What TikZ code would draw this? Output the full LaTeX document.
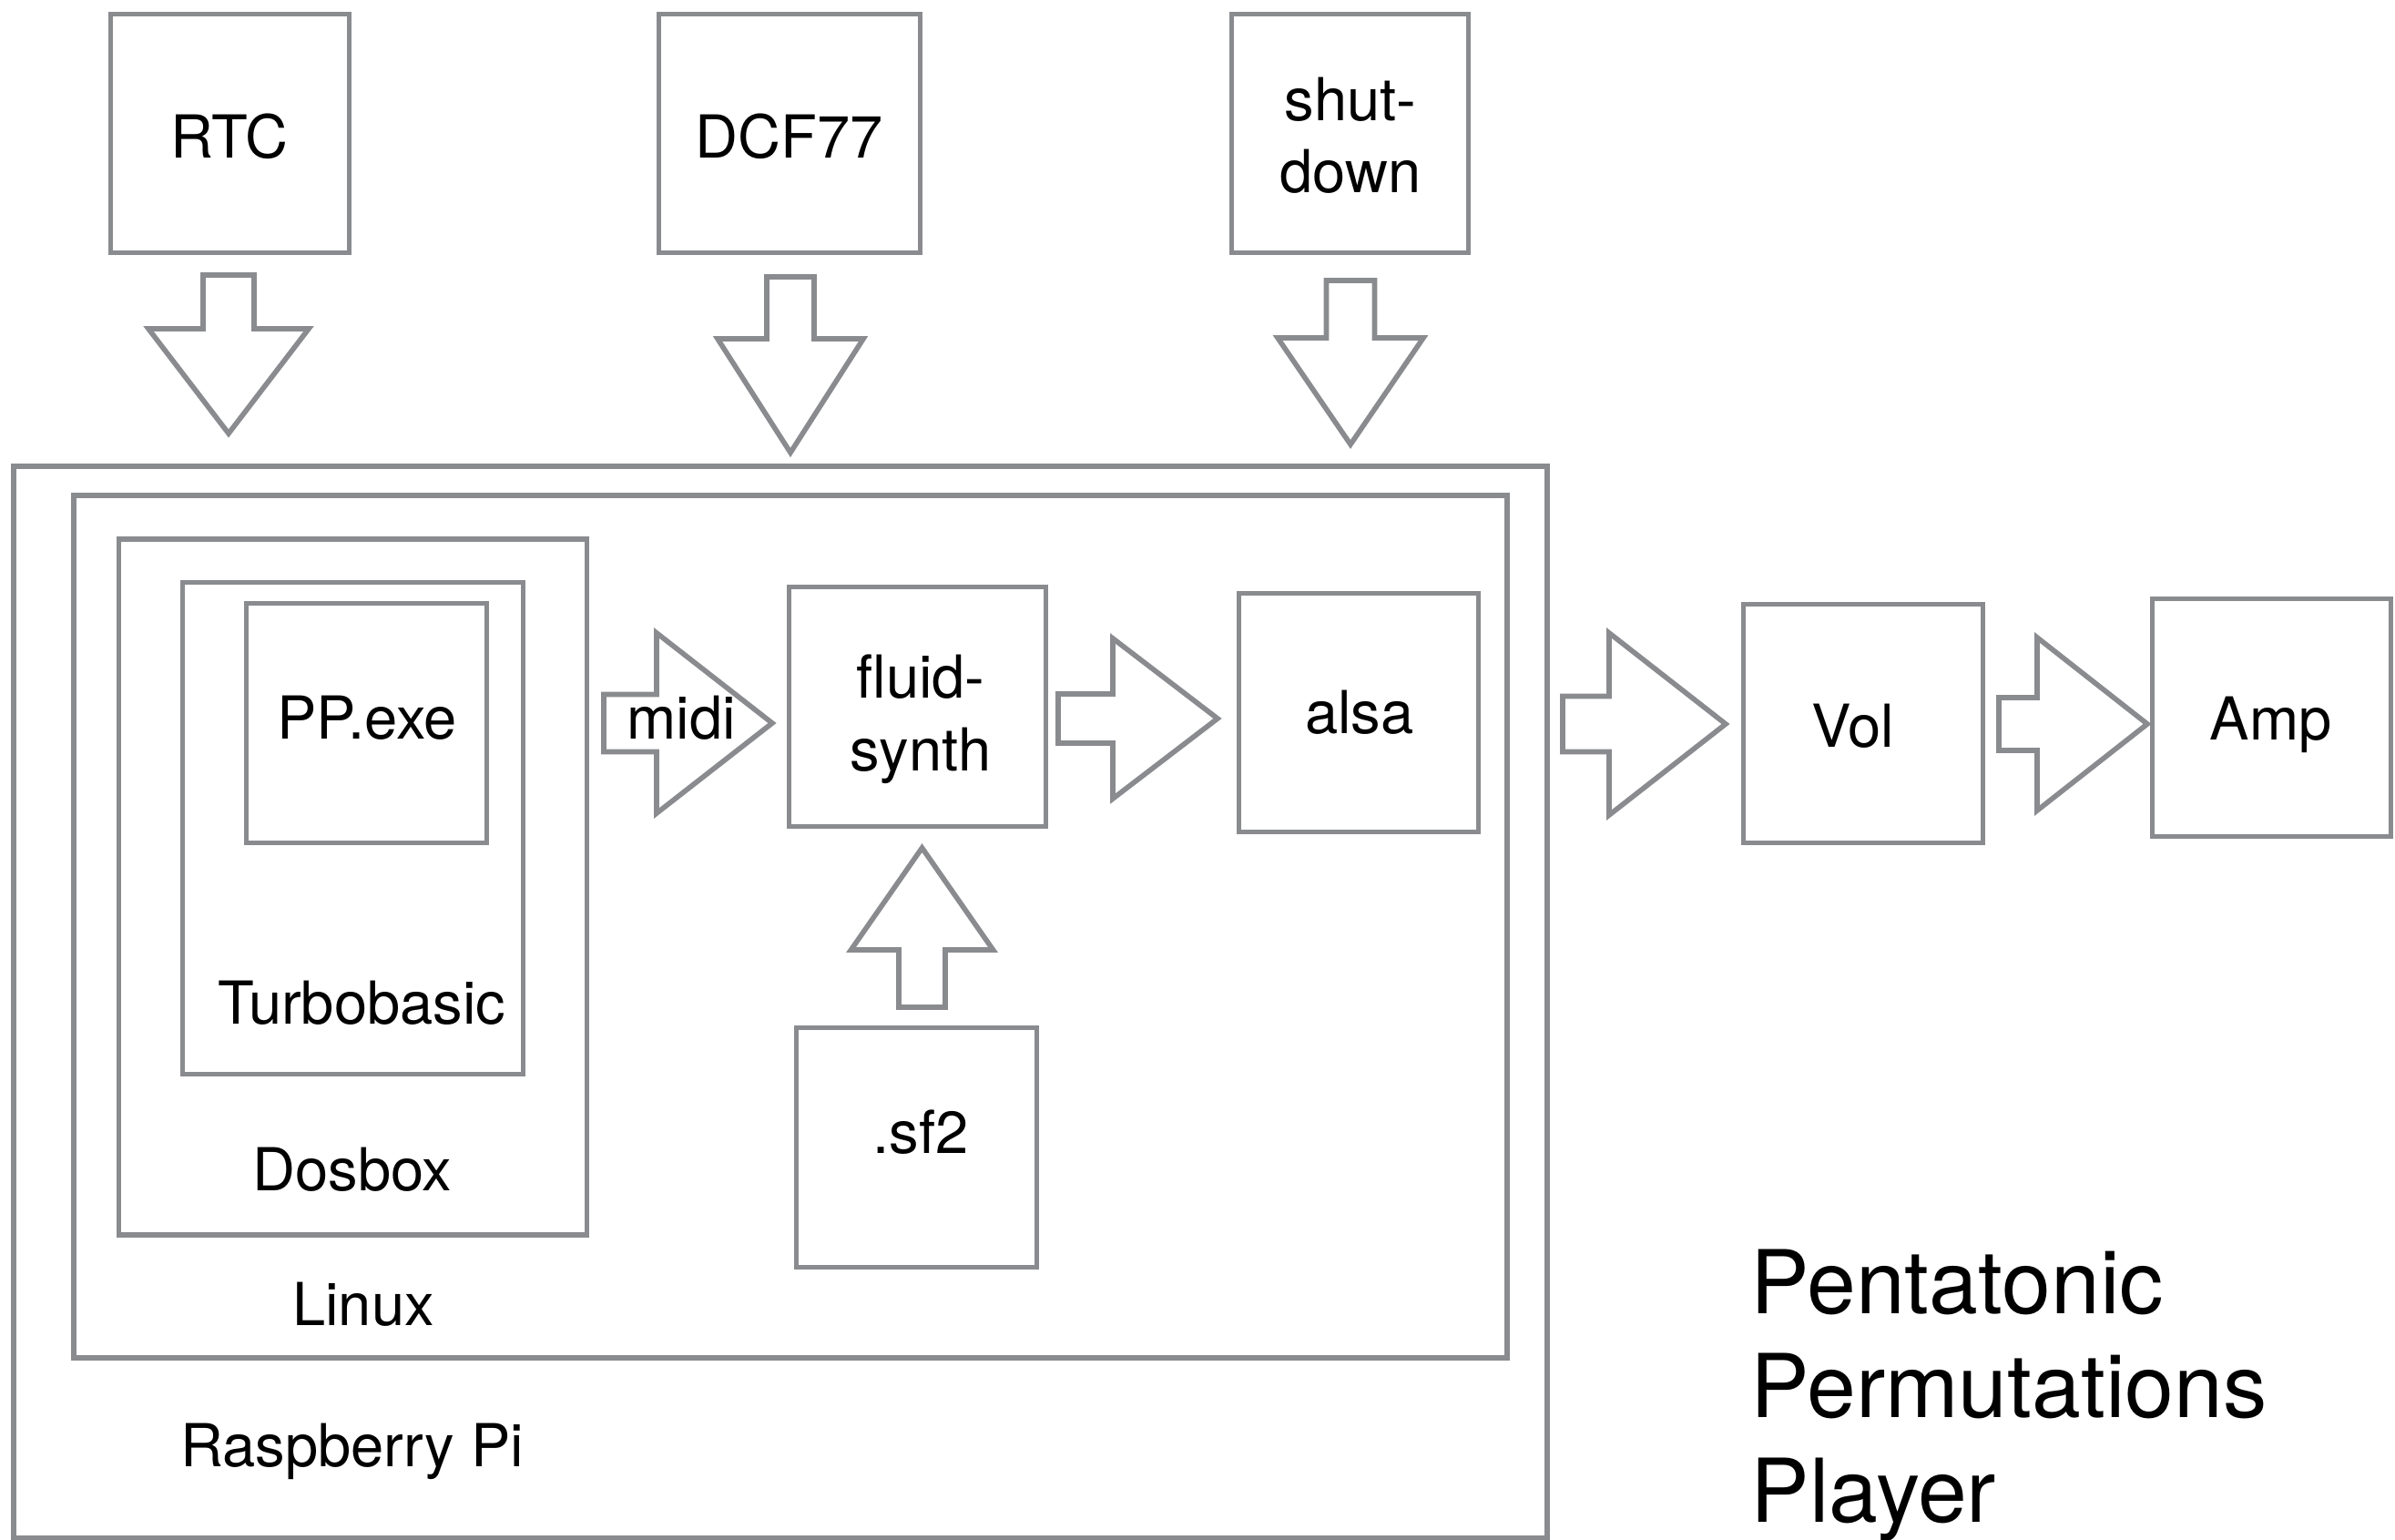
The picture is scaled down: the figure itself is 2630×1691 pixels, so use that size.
\documentclass[tikz,border=0pt]{standalone}
\usepackage{fontspec}
\setmainfont{TeX Gyre Heros}

\definecolor{linegray}{RGB}{138,139,143}

\tikzset{
  box/.style={draw=linegray, line width=1.6pt, inner sep=0pt},
  lbl/.style={anchor=base, inner sep=0pt, align=center,
    font=\fontsize{18.5}{22.5}\selectfont},
  fatarrow/.style={draw=linegray, line width=1.6pt, fill=white, line join=miter},
}

% block arrows: tail, head base, tip, centre line, half shaft, half head
\newcommand{\harrow}[6]{%
  \draw[fatarrow] (#1,#4-#5) -- (#2,#4-#5) -- (#2,#4-#6) -- (#3,#4)
    -- (#2,#4+#6) -- (#2,#4+#5) -- (#1,#4+#5) -- cycle;}
\newcommand{\varrow}[6]{%
  \draw[fatarrow] (#4-#5,#1) -- (#4-#5,#2) -- (#4-#6,#2) -- (#4,#3)
    -- (#4+#6,#2) -- (#4+#5,#2) -- (#4+#5,#1) -- cycle;}

\begin{document}
\begin{tikzpicture}[x=0.01cm,y=-0.01cm]
  \useasboundingbox (0,0) rectangle (2630,1691);

  % inputs
  \node[box, minimum width=2.62cm, minimum height=2.62cm] (rtc) at (252.5,146.5) {};
  \node[box, minimum width=2.87cm, minimum height=2.62cm] (dcf) at (867,146.5) {};
  \node[box, minimum width=2.60cm, minimum height=2.62cm] (shut) at (1482.5,146.5) {};
  \node[lbl] (rtclbl) at (252,173) {RTC};
  \node[lbl] (dcflbl) at (867,173) {DCF77};
  \node[lbl] (shutlbl) at (1483,212) {shut-\\down};

  \varrow{302}{361}{476}{251}{28}{88}
  \varrow{304}{372}{497}{868}{26}{80}
  \varrow{308}{371}{488}{1483}{26.5}{80}

  % nested boxes
  \node[box, minimum width=16.83cm, minimum height=11.76cm] (pi) at (857,1100.5) {};
  \node[box, minimum width=15.73cm, minimum height=9.46cm] (linux) at (868,1017.5) {};
  \node[box, minimum width=5.14cm, minimum height=7.63cm] (dosbox) at (387.5,974) {};
  \node[box, minimum width=3.74cm, minimum height=5.40cm] (tb) at (387.5,909.5) {};
  \node[box, minimum width=2.64cm, minimum height=2.63cm] (pp) at (402.5,794) {};
  \node[lbl] (pilbl) at (387,1610) {Raspberry Pi};
  \node[lbl] (linuxlbl) at (399,1455) {Linux};
  \node[lbl] (dosboxlbl) at (387,1307) {Dosbox};
  \node[lbl] (tblbl) at (397,1124) {Turbobasic};
  \node[lbl] (pplbl) at (403,811) {PP.exe};

  % synth chain
  \node[box, minimum width=2.82cm, minimum height=2.63cm] (fluid) at (1007.5,776) {};
  \node[box, minimum width=2.63cm, minimum height=2.62cm] (alsa) at (1492,782.5) {};
  \node[box, minimum width=2.64cm, minimum height=2.63cm] (sf) at (1006.5,1260) {};
  \harrow{663}{721}{848}{794}{31.5}{99}
  \harrow{1162}{1222}{1337}{789}{27}{88}
  \varrow{1106}{1043}{931}{1012.5}{25.5}{78}
  \node[lbl] (midilbl) at (748,811) {midi};
  \node[lbl] (fluidlbl) at (1011,846) {fluid-\\synth};
  \node[lbl] (alsalbl) at (1493,805) {alsa};
  \node[lbl] (sflbl) at (1011,1266) {.sf2};

  % output
  \node[box, minimum width=2.63cm, minimum height=2.62cm] (vol) at (2046,794.5) {};
  \node[box, minimum width=2.62cm, minimum height=2.61cm] (amp) at (2494.5,788) {};
  \harrow{1716}{1767}{1895}{795}{30.5}{100}
  \harrow{2195}{2237}{2358}{795}{29}{95}
  \node[lbl] (vollbl) at (2035,820) {Vol};
  \node[lbl] (amplbl) at (2494,812) {Amp};

  \node[anchor=north west, inner sep=0pt, align=left,
    font=\fontsize{27.5}{32.6}\selectfont] (title) at (1922,1371)
    {Pentatonic\\Permutations\\Player};
\end{tikzpicture}
\end{document}
